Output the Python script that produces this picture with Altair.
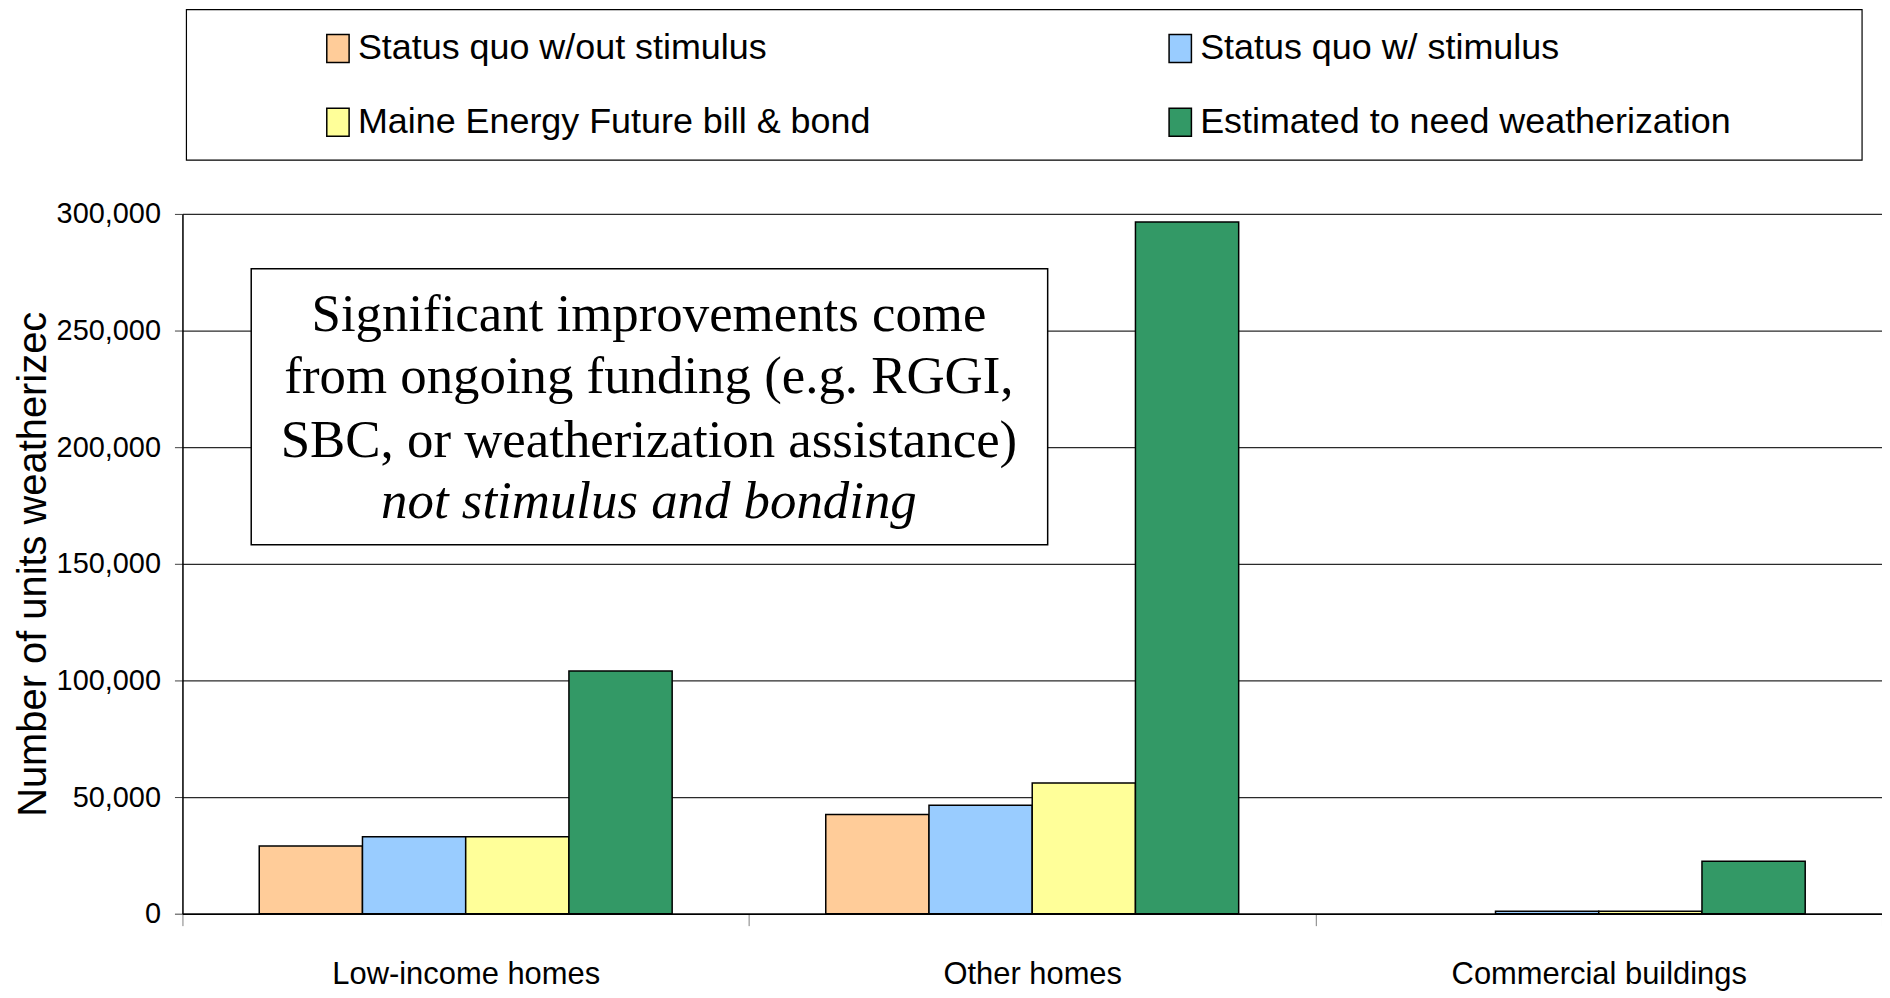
import altair as alt
import pandas as pd

categories = ["Low-income homes", "Other homes", "Commercial buildings"]
series = [
    "Status quo w/out stimulus",
    "Status quo w/ stimulus",
    "Maine Energy Future bill & bond",
    "Estimated to need weatherization",
]
status_quo_without = [29000, 42500, None]
status_quo_with = [33000, 46500, 1000]
maine_energy_future = [33000, 56000, 1000]
need_weatherization = [104000, 296500, 22500]
colors = ["#FFCC99", "#99CCFF", "#FFFF99", "#339966"]
y_ticks = [0, 50000, 100000, 150000, 200000, 250000, 300000]
y_title = "Number of units weatherizec"
annotation_lines = [
    "Significant improvements come",
    "from ongoing funding (e.g. RGGI,",
    "SBC, or weatherization assistance)",
    "not stimulus and bonding",
]

rows = []
for s, vals in zip(series, [status_quo_without, status_quo_with,
                            maine_energy_future, need_weatherization]):
    for c, v in zip(categories, vals):
        rows.append({"category": c, "series": s, "value": v})
df = pd.DataFrame(rows)

SANS = "'Liberation Sans', Arial, sans-serif"
SERIF = "'Liberation Serif', 'Times New Roman', serif"

W, H = 1705, 702

bars = alt.Chart(df).mark_bar(stroke="black", strokeWidth=1.5).encode(
    x=alt.X("category:N", sort=categories,
            scale=alt.Scale(paddingInner=0, paddingOuter=0),
            axis=alt.Axis(title=None, labelAngle=0, labelFont=SANS,
                          labelFontSize=31, labelColor="black", labelLimit=800,
                          labelBaseline="middle", labelPadding=49,
                          tickBand="extent", tickSize=12, tickColor="#808080",
                          domainColor="black", domainWidth=1.5)),
    xOffset=alt.XOffset("series:N", sort=series,
                        scale=alt.Scale(paddingInner=0, paddingOuter=0.744)),
    y=alt.Y("value:Q",
            scale=alt.Scale(domain=[0, 300000], nice=False),
            axis=alt.Axis(values=y_ticks, format=",.0f", title=y_title,
                          labelFont=SANS, labelFontSize=29, labelColor="black",
                          labelPadding=14, tickSize=8, tickColor="#404040",
                          domainColor="black", domainWidth=1.5,
                          grid=True, gridColor="#2a2a2a", gridWidth=1.2,
                          titleFont=SANS, titleFontSize=40,
                          titleFontWeight="normal", titleColor="black",
                          titleAngle=-90, titleX=-149, titleY=H / 2,
                          titleAlign="center", titleBaseline="middle")),
    color=alt.Color("series:N", sort=series,
                    scale=alt.Scale(domain=series, range=colors),
                    legend=alt.Legend(
                        title=None, orient="none", legendX=138, legendY=-184,
                        direction="horizontal",
                        columns=2, columnPadding=292, rowPadding=38,
                        labelFont=SANS, labelFontSize=36, labelColor="black",
                        labelOffset=2, labelLimit=800,
                        symbolType="M-0.8,-1H0.8V1H-0.8Z", symbolSize=784,
                        symbolStrokeColor="black", symbolStrokeWidth=1.5,
                        symbolOpacity=1, padding=0)),
)

one = pd.DataFrame({"k": [0]})

legend_frame = alt.Chart(one).mark_rect(
    fill="white", stroke="black", strokeWidth=1.2
).encode(x=alt.value(4), x2=alt.value(1685), y=alt.value(-205), y2=alt.value(-54))

note_box = alt.Chart(one).mark_rect(
    fill="white", stroke="black", strokeWidth=1.5
).encode(x=alt.value(69), x2=alt.value(868), y=alt.value(55), y2=alt.value(332))

note_layers = []
baselines = [117, 180, 244, 305]
for i, line in enumerate(annotation_lines):
    note_layers.append(
        alt.Chart(pd.DataFrame({"t": [line]})).mark_text(
            font=SERIF, fontSize=53, color="black", align="center",
            baseline="alphabetic",
            fontStyle="italic" if i == 3 else "normal",
        ).encode(text="t:N", x=alt.value(468), y=alt.value(baselines[i]))
    )

chart = alt.layer(legend_frame, bars, note_box, *note_layers).properties(
    width=W, height=H,
    padding={"left": 175, "top": 205, "right": 0, "bottom": 80},
    autosize=alt.AutoSizeParams(type="none"),
).configure_view(fill="#C0C0C0", stroke="transparent"
).configure(background="white")

chart.save("out.html", embed_options={"renderer": "svg", "actions": False})
